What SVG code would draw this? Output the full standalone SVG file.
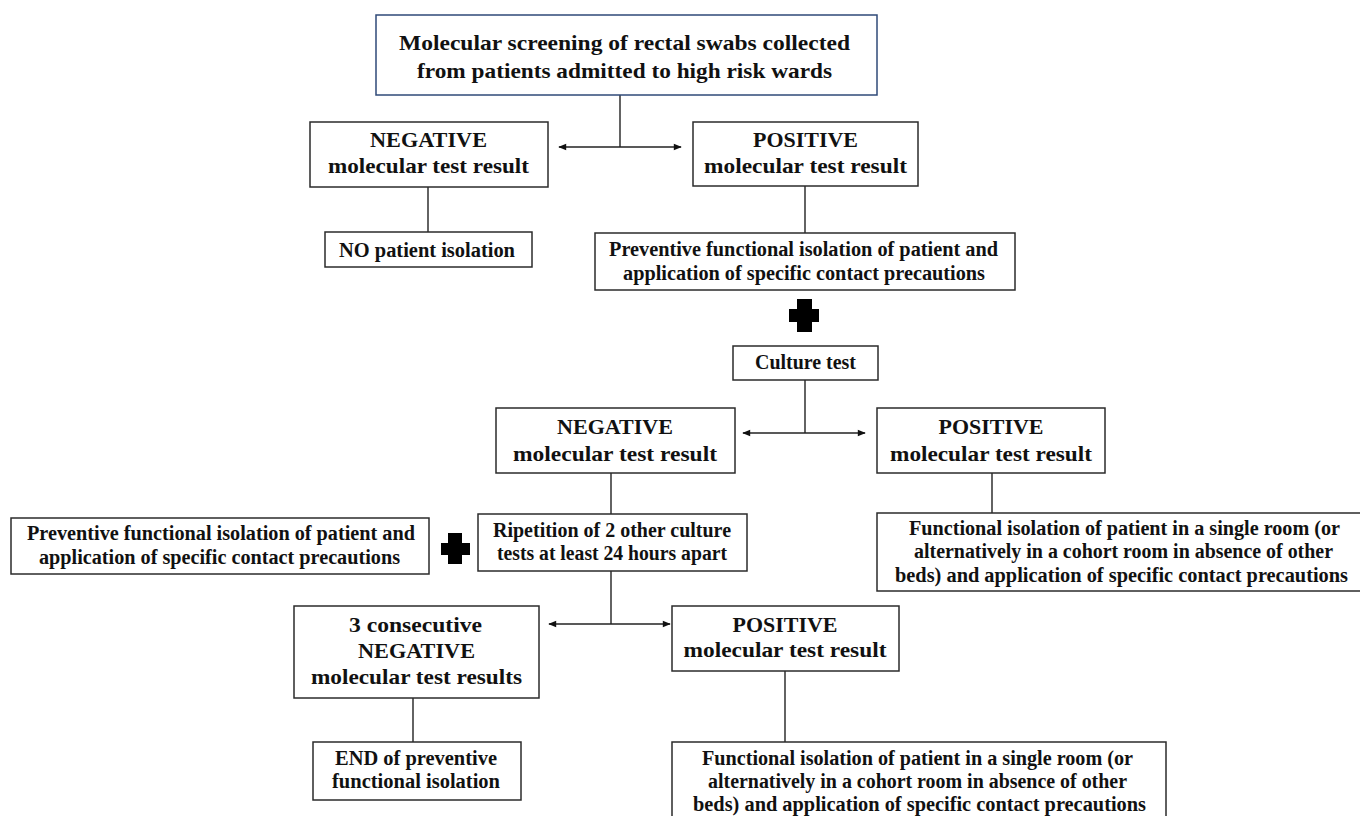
<svg xmlns="http://www.w3.org/2000/svg" width="1360" height="816" viewBox="0 0 1360 816">
<style>
.box{fill:#fff;stroke:#2b2b2b;stroke-width:1.5}
.top{fill:#fff;stroke:#2f4a78;stroke-width:1.5}
.t{font-family:"Liberation Serif","DejaVu Serif",serif;font-weight:bold;fill:#111;text-anchor:middle}
.big{font-size:22px}
.mid{font-size:20px}
.ln{stroke:#222;stroke-width:1.4;fill:none}
.plus{fill:#000}
</style>
<defs>
<marker id="ah" viewBox="0 0 10 10" refX="9" refY="5" markerWidth="9" markerHeight="8" markerUnits="userSpaceOnUse" orient="auto-start-reverse">
<path d="M0,1 L10,5 L0,9 Z" fill="#111"/>
</marker>
</defs>
<g id="connectors">
<path class="ln" d="M620,95 V147"/>
<path class="ln" d="M559,147 H681" marker-start="url(#ah)" marker-end="url(#ah)"/>
<path class="ln" d="M428,187 V232"/>
<path class="ln" d="M805,186 V233"/>
<path class="ln" d="M805,380 V433"/>
<path class="ln" d="M743,433 H865" marker-start="url(#ah)" marker-end="url(#ah)"/>
<path class="ln" d="M611,473 V514"/>
<path class="ln" d="M992,473 V513"/>
<path class="ln" d="M611,571 V624"/>
<path class="ln" d="M549,624 H670" marker-start="url(#ah)" marker-end="url(#ah)"/>
<path class="ln" d="M413,698 V742"/>
<path class="ln" d="M785,671 V742"/>
</g>
<g id="n-screen">
<rect class="top" x="376" y="15" width="501" height="80"/>
<text class="t big" x="624.5" y="50" textLength="451" lengthAdjust="spacingAndGlyphs">Molecular screening of rectal swabs collected</text>
<text class="t big" x="624.5" y="78" textLength="415" lengthAdjust="spacingAndGlyphs">from patients admitted to high risk wards</text>
</g>
<g id="n-neg1">
<rect class="box" x="310" y="122" width="238" height="65"/>
<text class="t big" x="428.5" y="147" textLength="117" lengthAdjust="spacingAndGlyphs">NEGATIVE</text>
<text class="t big" x="428.5" y="173" textLength="201" lengthAdjust="spacingAndGlyphs">molecular test result</text>
</g>
<g id="n-pos1">
<rect class="box" x="693" y="122" width="225" height="64"/>
<text class="t big" x="805.5" y="147" textLength="105" lengthAdjust="spacingAndGlyphs">POSITIVE</text>
<text class="t big" x="805.5" y="173" textLength="203" lengthAdjust="spacingAndGlyphs">molecular test result</text>
</g>
<g id="n-noiso">
<rect class="box" x="325" y="232" width="207" height="35"/>
<text class="t mid" x="427" y="257" textLength="176" lengthAdjust="spacingAndGlyphs">NO patient isolation</text>
</g>
<g id="n-prev1">
<rect class="box" x="595" y="233" width="420" height="57"/>
<text class="t mid" x="803.5" y="256" textLength="389" lengthAdjust="spacingAndGlyphs">Preventive functional isolation of patient and</text>
<text class="t mid" x="804" y="280" textLength="362" lengthAdjust="spacingAndGlyphs">application of specific contact precautions</text>
</g>
<g id="plus1">
<path class="plus" d="M797,299 h15 v10 h7 v13 h-7 v10 h-15 v-10 h-8 v-13 h8 Z"/>
</g>
<g id="n-culture">
<rect class="box" x="733" y="346" width="145" height="34"/>
<text class="t mid" x="805.5" y="369" textLength="101" lengthAdjust="spacingAndGlyphs">Culture test</text>
</g>
<g id="n-neg2">
<rect class="box" x="496" y="408" width="239" height="65"/>
<text class="t big" x="615" y="434" textLength="116" lengthAdjust="spacingAndGlyphs">NEGATIVE</text>
<text class="t big" x="615" y="461" textLength="204" lengthAdjust="spacingAndGlyphs">molecular test result</text>
</g>
<g id="n-pos2">
<rect class="box" x="877" y="408" width="228" height="65"/>
<text class="t big" x="991" y="434" textLength="105" lengthAdjust="spacingAndGlyphs">POSITIVE</text>
<text class="t big" x="991" y="461" textLength="202" lengthAdjust="spacingAndGlyphs">molecular test result</text>
</g>
<g id="n-prev2">
<rect class="box" x="11" y="518" width="418" height="56"/>
<text class="t mid" x="221" y="540" textLength="388" lengthAdjust="spacingAndGlyphs">Preventive functional isolation of patient and</text>
<text class="t mid" x="219.5" y="564" textLength="361" lengthAdjust="spacingAndGlyphs">application of specific contact precautions</text>
</g>
<g id="plus2">
<path class="plus" d="M448,533 h14 v10 h8 v12 h-8 v9 h-14 v-9 h-7 v-12 h7 Z"/>
</g>
<g id="n-rip">
<rect class="box" x="478" y="514" width="269" height="57"/>
<text class="t mid" x="612" y="537" textLength="238" lengthAdjust="spacingAndGlyphs">Ripetition of 2 other culture</text>
<text class="t mid" x="612" y="560" textLength="230" lengthAdjust="spacingAndGlyphs">tests at least 24 hours apart</text>
</g>
<g id="n-func1">
<rect class="box" x="877" y="513" width="495" height="78"/>
<text class="t mid" x="1124.5" y="535" textLength="431" lengthAdjust="spacingAndGlyphs">Functional isolation of patient in a single room (or</text>
<text class="t mid" x="1123.5" y="558" textLength="419" lengthAdjust="spacingAndGlyphs">alternatively in a cohort room in absence of other</text>
<text class="t mid" x="1121.5" y="582" textLength="453" lengthAdjust="spacingAndGlyphs">beds) and application of specific contact precautions</text>
</g>
<g id="n-neg3">
<rect class="box" x="294" y="606" width="245" height="92"/>
<text class="t big" x="415.5" y="632" textLength="133" lengthAdjust="spacingAndGlyphs">3 consecutive</text>
<text class="t big" x="416.5" y="658" textLength="117" lengthAdjust="spacingAndGlyphs">NEGATIVE</text>
<text class="t big" x="416.5" y="684" textLength="211" lengthAdjust="spacingAndGlyphs">molecular test results</text>
</g>
<g id="n-pos3">
<rect class="box" x="672" y="606" width="227" height="65"/>
<text class="t big" x="785" y="632" textLength="105" lengthAdjust="spacingAndGlyphs">POSITIVE</text>
<text class="t big" x="785" y="657" textLength="203" lengthAdjust="spacingAndGlyphs">molecular test result</text>
</g>
<g id="n-end">
<rect class="box" x="313" y="742" width="208" height="58"/>
<text class="t mid" x="416" y="765" textLength="162" lengthAdjust="spacingAndGlyphs">END of preventive</text>
<text class="t mid" x="416" y="788" textLength="168" lengthAdjust="spacingAndGlyphs">functional isolation</text>
</g>
<g id="n-func2">
<rect class="box" x="672" y="742" width="494" height="80"/>
<text class="t mid" x="917.5" y="765" textLength="431" lengthAdjust="spacingAndGlyphs">Functional isolation of patient in a single room (or</text>
<text class="t mid" x="917.5" y="788" textLength="419" lengthAdjust="spacingAndGlyphs">alternatively in a cohort room in absence of other</text>
<text class="t mid" x="919.5" y="811" textLength="453" lengthAdjust="spacingAndGlyphs">beds) and application of specific contact precautions</text>
</g>
</svg>
